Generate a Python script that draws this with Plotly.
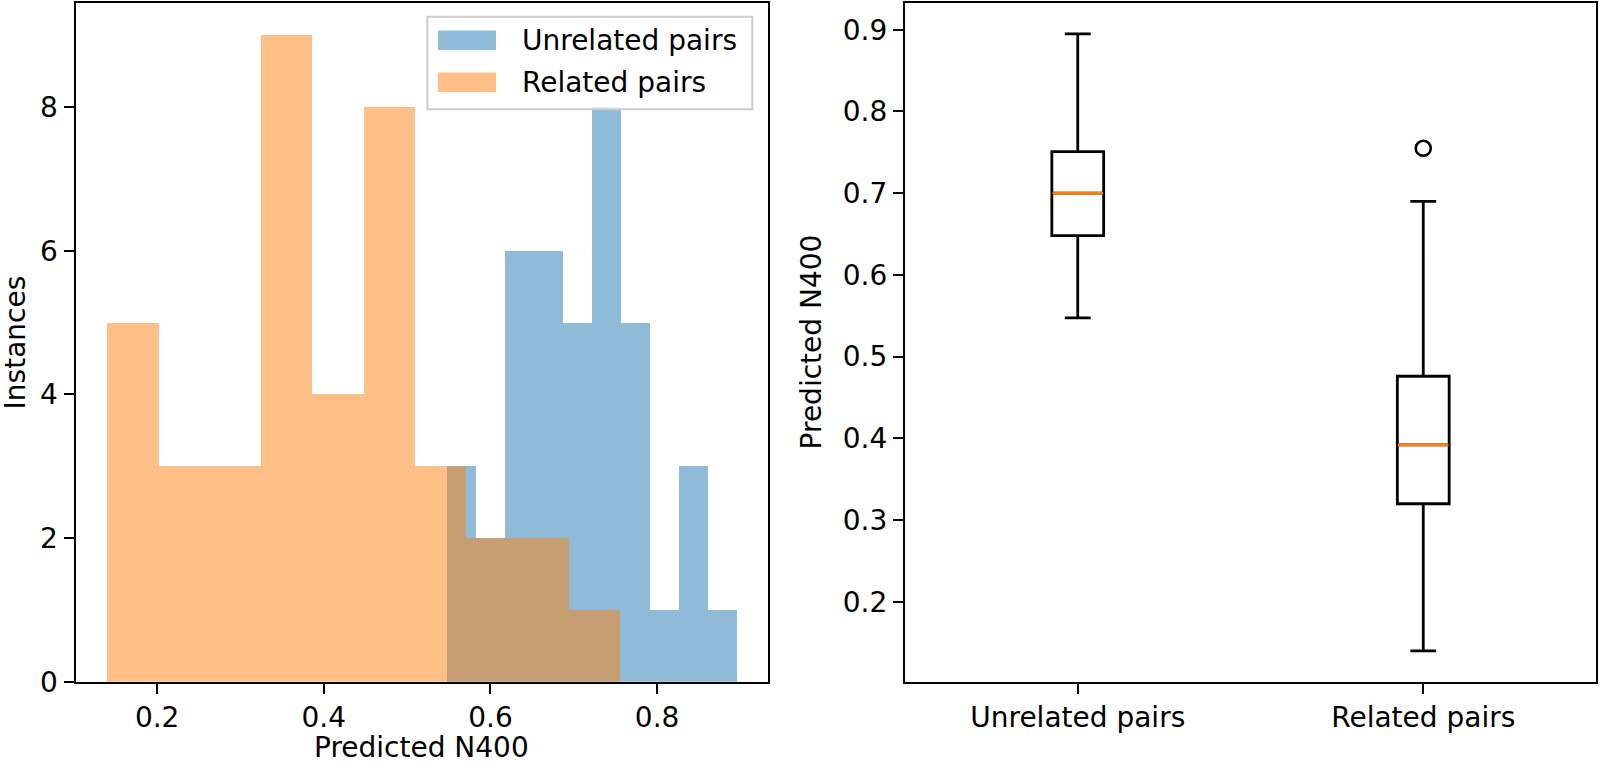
import numpy as np
import plotly.graph_objects as go

# ---------------- data ----------------
series_names = ["Unrelated pairs", "Related pairs"]

# histogram of Unrelated pairs (10 bins between min and max)
unrelated_min = 0.548
unrelated_max = 0.895
unrelated_counts = [3, 2, 6, 6, 5, 8, 5, 1, 3, 1]

# histogram of Related pairs (10 bins between min and max)
related_min = 0.14
related_max = 0.755
related_counts = [5, 3, 3, 9, 4, 8, 3, 2, 2, 1]

# boxplot statistics
box_positions = [1, 2]
box_q1 = [0.648, 0.320]
box_median = [0.700, 0.392]
box_q3 = [0.751, 0.476]
box_lower = [0.5475, 0.140]
box_upper = [0.895, 0.690]
outlier_position = [2]
outlier_values = [0.755]

hist_xticks = [0.2, 0.4, 0.6, 0.8]
hist_yticks = [0, 2, 4, 6, 8]
box_yticks = [0.2, 0.3, 0.4, 0.5, 0.6, 0.7, 0.8, 0.9]

# ---------------- styling ----------------
W, H = 1600, 766
FONT = "DejaVu Sans"
FS = 28
BLUE = "#1f77b4"
ORANGE = "#ff7f0e"


def px_x(p):
    return p / W


def px_y(p):
    return 1 - p / H


def edges(lo, hi, n):
    return np.linspace(lo, hi, n + 1)


fig = go.Figure()

for name, lo, hi, counts, col in [
    (series_names[0], unrelated_min, unrelated_max, unrelated_counts, BLUE),
    (series_names[1], related_min, related_max, related_counts, ORANGE),
]:
    e = edges(lo, hi, len(counts))
    centers = (e[:-1] + e[1:]) / 2
    fig.add_trace(go.Bar(
        x=centers, y=counts, width=[e[1] - e[0]] * len(counts),
        marker=dict(color=col, opacity=0.5, line=dict(width=0)),
        name=name, showlegend=False, xaxis="x", yaxis="y",
    ))

# boxplots
for i, pos in enumerate(box_positions):
    fig.add_trace(go.Box(
        x=[pos], q1=[box_q1[i]], median=[box_median[i]], q3=[box_q3[i]],
        lowerfence=[box_lower[i]], upperfence=[box_upper[i]],
        width=0.15, whiskerwidth=0.5, boxpoints=False,
        line=dict(color="black", width=2.8), fillcolor="rgba(0,0,0,0)",
        name=series_names[i], showlegend=False, xaxis="x2", yaxis="y2",
    ))
    fig.add_trace(go.Scatter(
        x=[pos - 0.073, pos + 0.073], y=[box_median[i], box_median[i]],
        mode="lines", line=dict(color=ORANGE, width=2.8),
        showlegend=False, hoverinfo="skip", xaxis="x2", yaxis="y2",
    ))

fig.add_trace(go.Scatter(
    x=outlier_position, y=outlier_values, mode="markers",
    marker=dict(symbol="circle-open", size=15, color="black", line=dict(width=2.6)),
    showlegend=False, xaxis="x2", yaxis="y2",
))

ax_common = dict(
    showline=True, mirror=True, linecolor="black", linewidth=2.3,
    ticks="outside", ticklen=10, tickwidth=2.3, tickcolor="black",
    showgrid=False, zeroline=False, automargin=False,
    tickfont=dict(family=FONT, size=FS, color="black"),
)

y_dom = [px_y(681.7), px_y(3)]
fig.update_layout(
    width=W, height=H, autosize=False,
    margin=dict(l=0, r=0, t=0, b=0, pad=0, autoexpand=False),
    paper_bgcolor="white", plot_bgcolor="white",
    barmode="overlay", bargap=0,
    xaxis=dict(domain=[px_x(75.7), px_x(767.7)], range=[0.10225, 0.93275],
               tickvals=hist_xticks, ticktext=[f"{v:.1f}" for v in hist_xticks],
               anchor="y", **ax_common),
    yaxis=dict(domain=y_dom, range=[0, 9.45], tickvals=hist_yticks,
               anchor="x", **ax_common),
    xaxis2=dict(domain=[px_x(905), px_x(1596)], range=[0.5, 2.5],
                tickvals=box_positions, ticktext=series_names,
                anchor="y2", **ax_common),
    yaxis2=dict(domain=y_dom, range=[0.10225, 0.93275], tickvals=box_yticks,
                ticktext=[f"{v:.1f}" for v in box_yticks],
                anchor="x2", **ax_common),
    showlegend=False,
)

# axis labels
ann = []
ann.append(dict(text="Predicted N400", x=px_x(421.7), y=px_y(747), xref="paper", yref="paper",
                showarrow=False, xanchor="center", yanchor="middle",
                font=dict(family=FONT, size=FS, color="black")))
ann.append(dict(text="Instances", x=px_x(15), y=px_y(342.4), xref="paper", yref="paper",
                showarrow=False, xanchor="center", yanchor="middle", textangle=-90,
                font=dict(family=FONT, size=FS, color="black")))
ann.append(dict(text="Predicted N400", x=px_x(811), y=px_y(342.4), xref="paper", yref="paper",
                showarrow=False, xanchor="center", yanchor="middle", textangle=-90,
                font=dict(family=FONT, size=FS, color="black")))

# legend (drawn like matplotlib's)
shapes = [dict(type="rect", xref="paper", yref="paper",
               x0=px_x(427.3), x1=px_x(752.3), y0=px_y(109.3), y1=px_y(16.7),
               line=dict(color="#cccccc", width=2), fillcolor="rgba(255,255,255,0.8)",
               layer="above")]
for i, (col, yc) in enumerate([(BLUE, 40.3), (ORANGE, 82.2)]):
    shapes.append(dict(type="rect", xref="paper", yref="paper",
                       x0=px_x(438), x1=px_x(496), y0=px_y(yc + 9.7), y1=px_y(yc - 9.7),
                       line=dict(width=0), fillcolor=col, opacity=0.5, layer="above"))
    ann.append(dict(text=series_names[i], x=px_x(520), y=px_y(yc), xref="paper", yref="paper",
                    showarrow=False, xanchor="left", yanchor="middle",
                    font=dict(family=FONT, size=FS, color="black")))

fig.update_layout(annotations=ann, shapes=shapes)

post = (
    "var gd=document.getElementById('{plot_id}');"
    "gd.style.position='fixed';gd.style.left='0px';gd.style.top='0px';"
    "document.body.style.margin='0px';"
    "document.body.style.overflow='hidden';"
    "document.documentElement.style.overflow='hidden';"
)

fig.write_html("out.html", config={"displayModeBar": False, "responsive": False}, post_script=post)
